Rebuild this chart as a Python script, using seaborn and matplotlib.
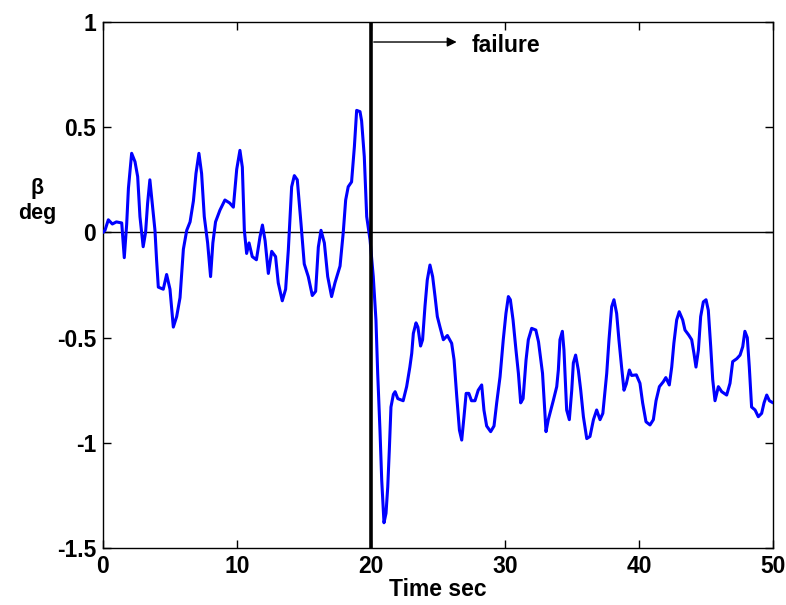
import numpy as np
import pandas as pd
import matplotlib
matplotlib.use("Agg")
import matplotlib.pyplot as plt
import seaborn as sns

time_sec = [0.0, 0.15, 0.4, 0.7, 1.0, 1.4, 1.59, 1.77, 1.9, 2.14, 2.39, 2.59, 2.76, 3.0, 3.18, 3.33, 3.5, 3.68, 3.88,
            4.0, 4.13, 4.5, 4.75, 5.0, 5.25, 5.5, 5.75, 6.0, 6.25, 6.5, 6.75, 6.94, 7.16, 7.36, 7.56, 7.81, 8.03, 8.2,
            8.4, 8.73, 9.1, 9.45, 9.73, 9.98, 10.22, 10.4, 10.55, 10.72, 10.9, 11.14, 11.45, 11.72, 11.9, 12.1, 12.34,
            12.59, 12.88, 13.08, 13.38, 13.63, 13.83, 14.08, 14.28, 14.5, 14.78, 15.02, 15.32, 15.62, 15.87, 16.07,
            16.27, 16.52, 16.77, 17.06, 17.31, 17.69, 17.93, 18.11, 18.3, 18.55, 18.76, 18.93, 19.18, 19.3, 19.5,
            19.68, 19.93, 20.17, 20.37, 20.5, 20.67, 20.8, 20.97, 21.12, 21.25, 21.37, 21.49, 21.67, 21.8, 22.0,
            22.4, 22.66, 22.9, 23.04, 23.16, 23.36, 23.5, 23.7, 23.85, 24.03, 24.2, 24.4, 24.6, 24.78, 24.95, 25.15,
            25.4, 25.7, 26.02, 26.2, 26.4, 26.6, 26.77, 26.94, 27.1, 27.3, 27.5, 27.76, 28.0, 28.26, 28.43, 28.63,
            28.93, 29.18, 29.38, 29.63, 29.87, 30.07, 30.25, 30.4, 30.6, 30.82, 31.0, 31.17, 31.35, 31.57, 31.74,
            31.99, 32.3, 32.5, 32.8, 33.06, 33.23, 33.6, 33.86, 33.98, 34.1, 34.28, 34.4, 34.6, 34.8, 34.98, 35.1,
            35.27, 35.47, 35.65, 35.85, 36.1, 36.34, 36.6, 36.84, 37.09, 37.3, 37.59, 37.76, 37.96, 38.13, 38.33,
            38.5, 38.7, 38.88, 39.05, 39.28, 39.45, 39.8, 40.07, 40.27, 40.52, 40.82, 41.07, 41.27, 41.52, 41.81,
            42.0, 42.26, 42.44, 42.6, 42.81, 43.0, 43.26, 43.43, 43.7, 43.93, 44.1, 44.25, 44.43, 44.6, 44.8, 45.0,
            45.17, 45.35, 45.5, 45.67, 45.92, 46.17, 46.54, 46.79, 46.99, 47.3, 47.54, 47.74, 47.9, 48.08, 48.23,
            48.4, 48.66, 48.9, 49.15, 49.33, 49.53, 49.73, 50.0]
beta_deg = [0.0, 0.01, 0.06, 0.04, 0.05, 0.045, -0.12, 0.04, 0.21, 0.376, 0.336, 0.265, 0.075, -0.068, 0.0, 0.138,
            0.25, 0.138, 0.01, -0.13, -0.26, -0.27, -0.2, -0.27, -0.45, -0.4, -0.31, -0.08, 0.01, 0.05, 0.15, 0.28,
            0.376, 0.28, 0.075, -0.05, -0.21, -0.05, 0.05, 0.106, 0.154, 0.14, 0.12, 0.3, 0.39, 0.31, 0.01, -0.1,
            -0.05, -0.115, -0.13, -0.02, 0.035, -0.04, -0.195, -0.09, -0.115, -0.24, -0.325, -0.27, -0.085, 0.217,
            0.27, 0.25, 0.04, -0.15, -0.21, -0.3, -0.28, -0.07, 0.01, -0.05, -0.21, -0.305, -0.24, -0.16, 0.0,
            0.154, 0.217, 0.24, 0.407, 0.58, 0.574, 0.53, 0.36, 0.075, -0.036, -0.21, -0.416, -0.67, -0.94, -1.177,
            -1.38, -1.335, -1.21, -1.03, -0.83, -0.77, -0.757, -0.79, -0.8, -0.733, -0.64, -0.575, -0.48, -0.43,
            -0.45, -0.54, -0.51, -0.35, -0.226, -0.155, -0.21, -0.305, -0.4, -0.45, -0.51, -0.49, -0.527, -0.606,
            -0.78, -0.94, -0.987, -0.876, -0.765, -0.765, -0.8, -0.8, -0.75, -0.725, -0.845, -0.92, -0.947, -0.92,
            -0.81, -0.686, -0.51, -0.385, -0.305, -0.32, -0.416, -0.56, -0.67, -0.81, -0.79, -0.606, -0.51, -0.456,
            -0.464, -0.52, -0.67, -0.947, -0.89, -0.8, -0.733, -0.654, -0.51, -0.47, -0.56, -0.844, -0.89, -0.75,
            -0.62, -0.583, -0.654, -0.75, -0.876, -0.98, -0.97, -0.89, -0.844, -0.89, -0.86, -0.67, -0.51, -0.353,
            -0.32, -0.385, -0.51, -0.64, -0.75, -0.72, -0.654, -0.68, -0.677, -0.717, -0.81, -0.9, -0.915, -0.89,
            -0.8, -0.733, -0.71, -0.69, -0.725, -0.64, -0.527, -0.416, -0.377, -0.416, -0.464, -0.487, -0.51, -0.575,
            -0.64, -0.56, -0.4, -0.33, -0.32, -0.37, -0.543, -0.7, -0.8, -0.733, -0.757, -0.773, -0.717, -0.614,
            -0.6, -0.583, -0.543, -0.47, -0.5, -0.64, -0.83, -0.844, -0.876, -0.86, -0.81, -0.773, -0.8, -0.81]

failure_time = 20
x_ticks = [0, 10, 20, 30, 40, 50]
y_ticks = [-1.5, -1, -0.5, 0, 0.5, 1]
y_tick_labels = ["-1.5", "-1", "-0.5", "0", "0.5", "1"]

sns.set_theme(style="white")
plt.rcParams['font.family'] = ['Liberation Sans', 'DejaVu Sans']
plt.rcParams['text.color'] = 'black'
plt.rcParams['axes.labelcolor'] = 'black'

df = pd.DataFrame({"t": time_sec, "beta": beta_deg})

fig = plt.figure(figsize=(7.86, 6.05), dpi=100)
ax = fig.add_axes([0.131, 0.0942, 0.8525, 0.8694])

FS = 16.5

ax.axhline(0, color="black", lw=1.0, zorder=1)
sns.lineplot(data=df, x="t", y="beta", ax=ax, color="#0000ff", lw=2.2, zorder=3)
ax.axvline(failure_time, color="black", lw=2.6, zorder=4)

ax.annotate("", xy=(26.6, 0.905), xytext=(failure_time, 0.905),
            arrowprops=dict(arrowstyle="-|>", color="black", lw=1.0, mutation_scale=14))
ax.text(27.5, 0.89, "failure", fontsize=FS, fontweight="bold", va="center", ha="left", color="black")

ax.set_xlim(0, 50)
ax.set_ylim(-1.5, 1)
ax.set_xticks(x_ticks)
ax.set_xticklabels([str(v) for v in x_ticks])
ax.set_yticks(y_ticks)
ax.set_yticklabels(y_tick_labels)
ax.tick_params(direction="in", length=6, width=1, top=True, right=True, labelsize=FS,
               bottom=True, left=True, pad=5, colors="black")
for lbl in ax.get_xticklabels() + ax.get_yticklabels():
    lbl.set_fontweight("bold")
for s in ax.spines.values():
    s.set_color("black")
    s.set_linewidth(1.0)

ax.set_xlabel("Time sec", fontsize=FS, fontweight="bold", labelpad=0, color="black")
ax.set_ylabel("")
fig.text(0.047, 0.668, "β\ndeg", fontsize=15.5, fontweight="bold", ha="center", va="center",
         linespacing=1.25, color="black")

fig.savefig("out.png", dpi=100)
